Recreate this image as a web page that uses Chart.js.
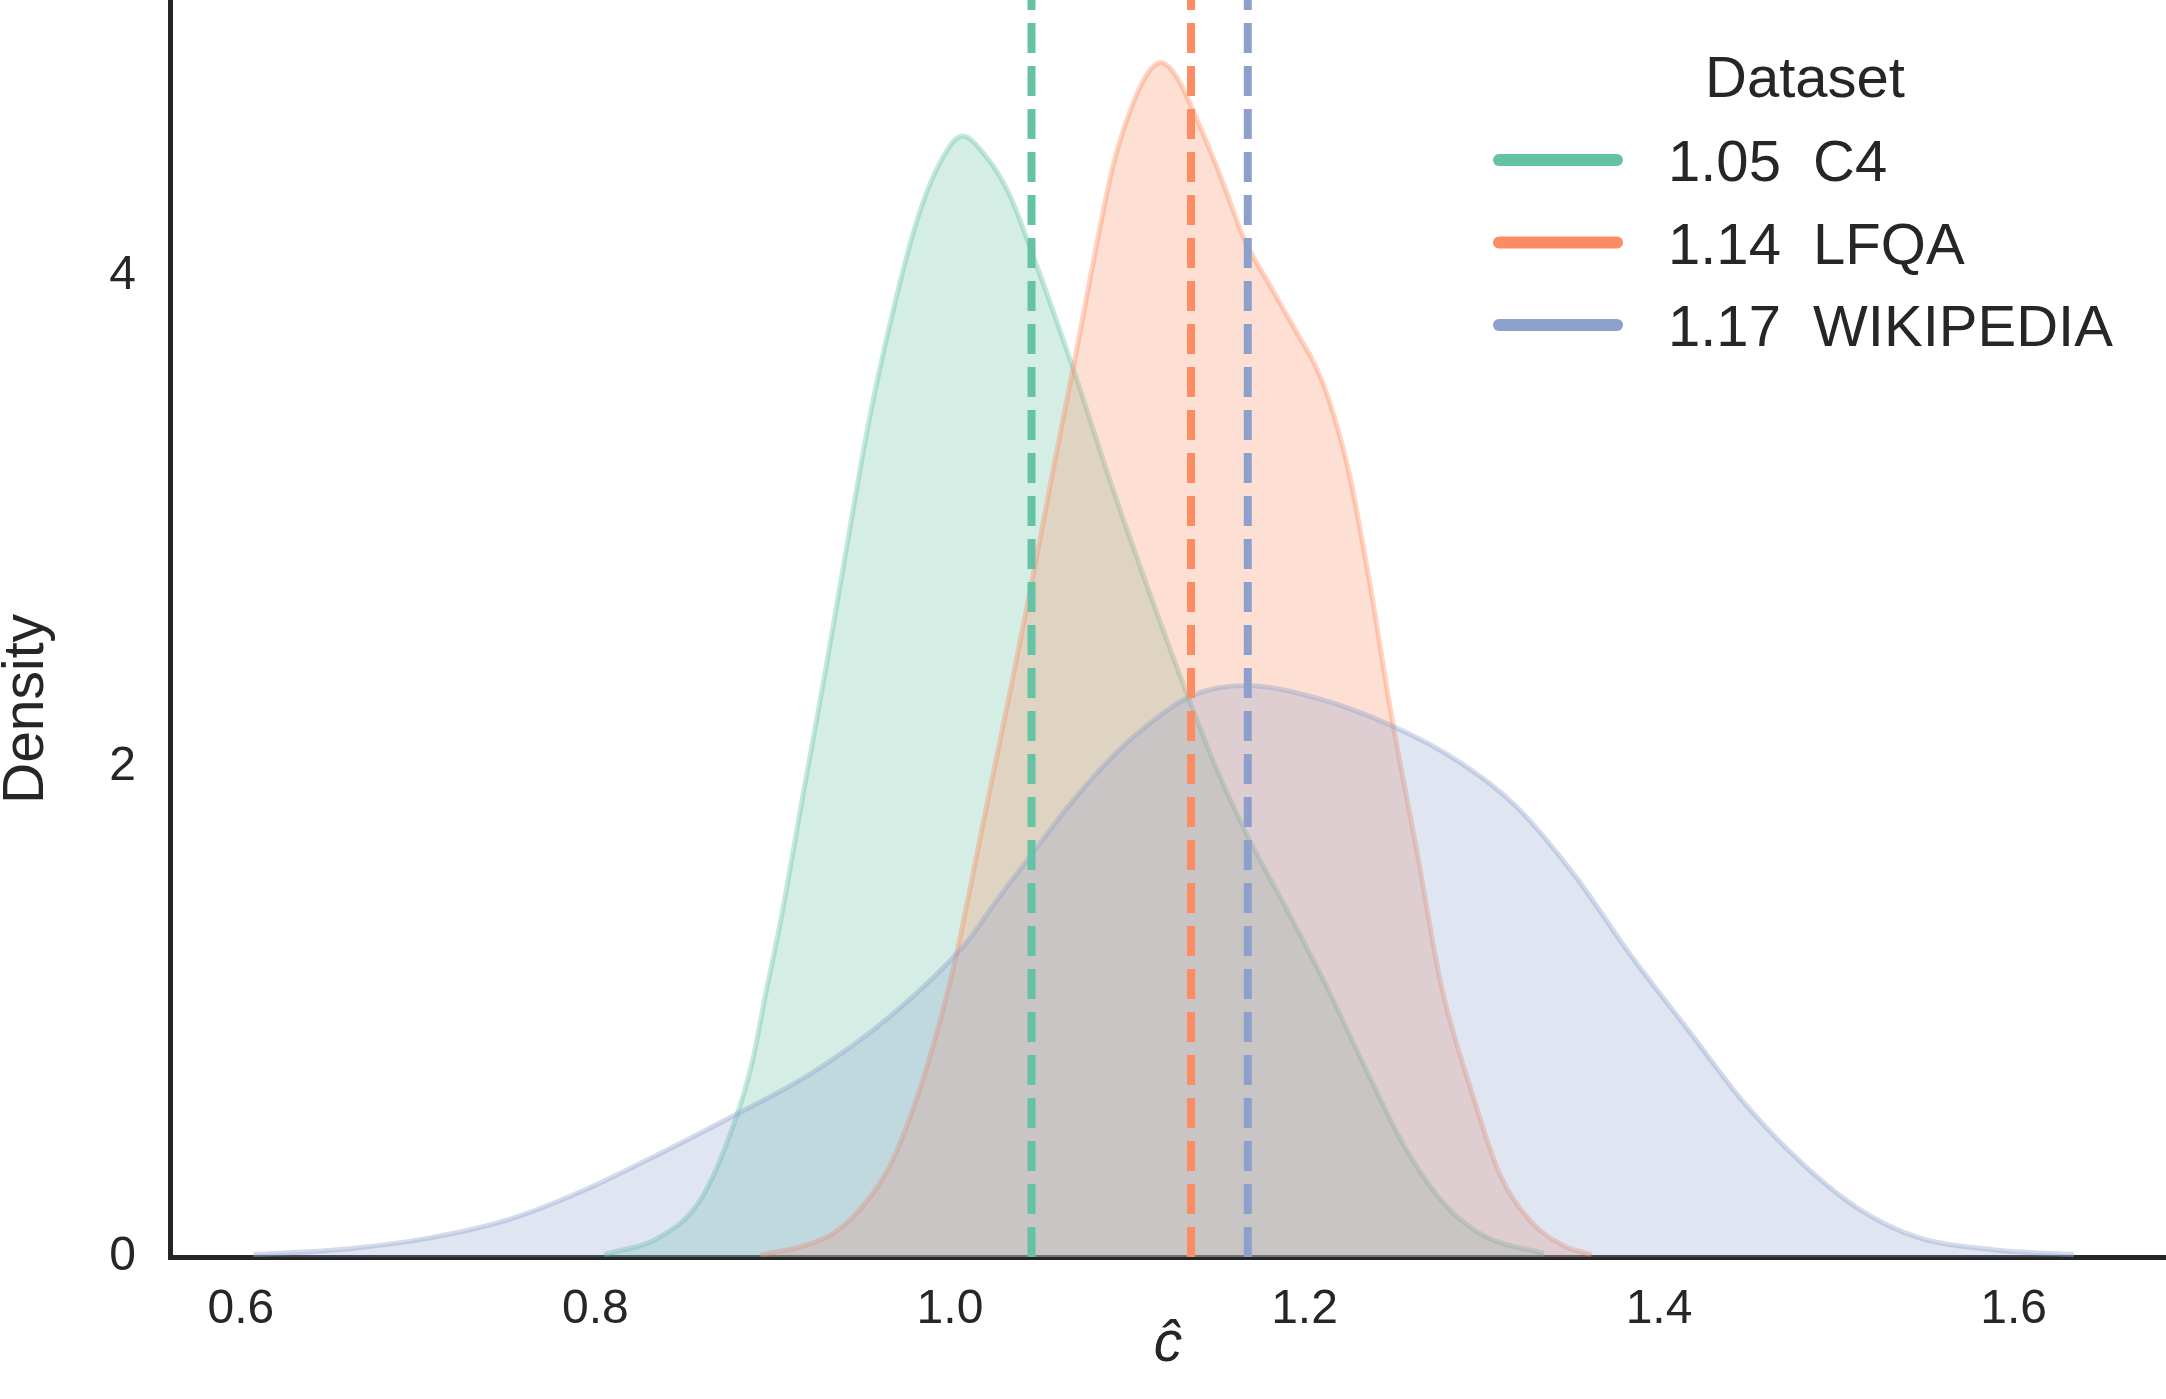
<!DOCTYPE html>
<html>
<head>
<meta charset="utf-8">
<title>Density of c-hat per dataset</title>
<script src="https://cdn.jsdelivr.net/npm/chart.js@4.4.0/dist/chart.umd.min.js"></script>
<style>
    html, body { margin: 0; padding: 0; background: #ffffff; }
    #chart { display: block; }
</style>
</head>
<body>
<canvas id="chart" width="2166" height="1399"></canvas>
<script>
// Dataset names, means (dashed lines) and colours
const datasetNames = ["C4", "LFQA", "WIKIPEDIA"];
const datasetMeans = [1.046, 1.136, 1.168];
const datasetColors = [[102, 194, 165], [252, 141, 98], [141, 160, 203]];

// KDE curves
const c4X = [0.805, 0.836, 0.859, 0.876, 0.888, 0.896, 0.905, 0.918, 0.930, 0.940, 0.950, 0.958, 0.970,
    0.982, 0.995, 1.007, 1.020, 1.033, 1.045, 1.058, 1.071, 1.091, 1.114, 1.134, 1.151, 1.169, 1.189,
    1.212, 1.235, 1.258, 1.281, 1.303, 1.335];
const c4Density = [0.01, 0.08, 0.23, 0.50, 0.78, 1.07, 1.39, 1.92, 2.40, 2.82, 3.24, 3.54, 3.92,
    4.24, 4.47, 4.57, 4.49, 4.34, 4.12, 3.86, 3.59, 3.15, 2.68, 2.29, 1.98, 1.70, 1.43,
    1.11, 0.76, 0.43, 0.20, 0.08, 0.015];

const lfqaX = [0.893, 0.915, 0.935, 0.950, 0.966, 0.980, 0.992, 1.002, 1.019, 1.036, 1.048, 1.059, 1.071,
    1.082, 1.092, 1.101, 1.111, 1.119, 1.128, 1.141, 1.154, 1.166, 1.179, 1.194, 1.207, 1.214, 1.225,
    1.237, 1.249, 1.264, 1.277, 1.294, 1.310, 1.329, 1.348, 1.362];
const lfqaDensity = [0.01, 0.04, 0.10, 0.20, 0.37, 0.62, 0.90, 1.18, 1.78, 2.38, 2.82, 3.24, 3.68,
    4.10, 4.45, 4.66, 4.82, 4.87, 4.81, 4.61, 4.38, 4.15, 3.98, 3.79, 3.62, 3.49, 3.20,
    2.74, 2.21, 1.63, 1.11, 0.68, 0.34, 0.135, 0.04, 0.01];

const wikiX = [0.607, 0.635, 0.663, 0.706, 0.750, 0.793, 0.836, 0.879, 0.922, 0.966, 1.009, 1.028, 1.048,
    1.066, 1.085, 1.105, 1.137, 1.167, 1.206, 1.248, 1.287, 1.319, 1.352, 1.384, 1.417, 1.449, 1.481,
    1.514, 1.546, 1.588, 1.634];
const wikiDensity = [0.01, 0.02, 0.035, 0.077, 0.15, 0.27, 0.42, 0.58, 0.75, 0.98, 1.28, 1.47, 1.66,
    1.83, 1.99, 2.13, 2.29, 2.33, 2.28, 2.17, 2.02, 1.84, 1.56, 1.23, 0.92, 0.62, 0.38,
    0.19, 0.08, 0.03, 0.01];

// Axes
const xTicks = [0.6, 0.8, 1.0, 1.2, 1.4, 1.6];
const yTicks = [0, 2, 4];
const xMin = 0.560, xMax = 1.686, yMax = 5.125;

const textColor = "#262626";
const fontFamily = "'Liberation Sans', Arial, Helvetica, sans-serif";

function rgba(c, a) {
    return "rgba(" + c[0] + "," + c[1] + "," + c[2] + "," + a + ")";
}

function points(xs, ys) {
    return xs.map(function (x, i) { return { x: x, y: ys[i] }; });
}

const curves = [points(c4X, c4Density), points(lfqaX, lfqaDensity), points(wikiX, wikiDensity)];

var datasets = [];

// Filled KDE areas
curves.forEach(function (data, i) {
    datasets.push({
        label: datasetNames[i],
        data: data,
        borderColor: rgba(datasetColors[i], 0.38),
        backgroundColor: rgba(datasetColors[i], 0.28),
        borderWidth: 5,
        fill: "origin",
        pointRadius: 0,
        cubicInterpolationMode: "monotone",
        order: 3 - i
    });
});

// Dashed mean lines
datasetMeans.forEach(function (m, i) {
    datasets.push({
        label: "mean " + datasetNames[i],
        data: [{ x: m, y: 0 }, { x: m, y: yMax }],
        borderColor: rgba(datasetColors[i], 1),
        borderWidth: 8,
        borderDash: [30, 13],
        borderCapStyle: "butt",
        fill: false,
        pointRadius: 0,
        order: 0
    });
});

// Axis titles and legend drawn on top
var overlay = {
    id: "overlay",
    afterDraw: function (chart) {
        var ctx = chart.ctx;
        var area = chart.chartArea;
        ctx.save();
        ctx.fillStyle = textColor;

        // y title
        ctx.save();
        ctx.translate(43, area.bottom - 548);
        ctx.rotate(-Math.PI / 2);
        ctx.font = "57px " + fontFamily;
        ctx.textAlign = "center";
        ctx.textBaseline = "alphabetic";
        ctx.fillText("Density", 0, 0);
        ctx.restore();

        // x title, centred under the axes
        ctx.font = "italic 57px " + fontFamily;
        ctx.textAlign = "center";
        ctx.textBaseline = "alphabetic";
        ctx.fillText("ĉ", (area.left + area.right) / 2, 1361);

        // legend
        ctx.font = "58px " + fontFamily;
        ctx.fillText("Dataset", 1805, 97);
        ctx.textAlign = "left";
        datasetNames.forEach(function (name, i) {
            var y = 160 + i * 82.5;
            ctx.strokeStyle = rgba(datasetColors[i], 1);
            ctx.lineWidth = 12;
            ctx.lineCap = "round";
            ctx.beginPath();
            ctx.moveTo(1499, y);
            ctx.lineTo(1617, y);
            ctx.stroke();
            ctx.fillText(datasetMeans[i].toFixed(2) + "  " + name, 1668, y + 21);
        });
        ctx.restore();
    }
};

new Chart(document.getElementById("chart").getContext("2d"), {
    type: "line",
    data: { datasets: datasets },
    options: {
        responsive: false,
        animation: false,
        devicePixelRatio: 1,
        layout: { padding: 0 },
        plugins: {
            legend: { display: false },
            tooltip: { enabled: false }
        },
        scales: {
            x: {
                type: "linear",
                min: xMin,
                max: xMax,
                grid: { display: false, drawTicks: false },
                border: { display: true, color: textColor, width: 5 },
                ticks: {
                    color: textColor,
                    padding: 24,
                    font: { family: fontFamily, size: 48 },
                    callback: function (v) { return v.toFixed(1); }
                },
                afterBuildTicks: function (scale) {
                    scale.ticks = xTicks.map(function (v) { return { value: v }; });
                },
                afterFit: function (scale) {
                    scale.height = 142;
                    scale.paddingLeft = 0;
                    scale.paddingRight = 0;
                }
            },
            y: {
                type: "linear",
                min: 0,
                max: yMax,
                grid: { display: false, drawTicks: false },
                border: { display: true, color: textColor, width: 5 },
                ticks: {
                    color: textColor,
                    padding: 34,
                    font: { family: fontFamily, size: 48 },
                    callback: function (v) { return String(v); }
                },
                afterBuildTicks: function (scale) {
                    scale.ticks = yTicks.map(function (v) { return { value: v }; });
                },
                afterFit: function (scale) {
                    scale.width = 170;
                    scale.paddingTop = 0;
                    scale.paddingBottom = 0;
                }
            }
        }
    },
    plugins: [overlay]
});
</script>
</body>
</html>
